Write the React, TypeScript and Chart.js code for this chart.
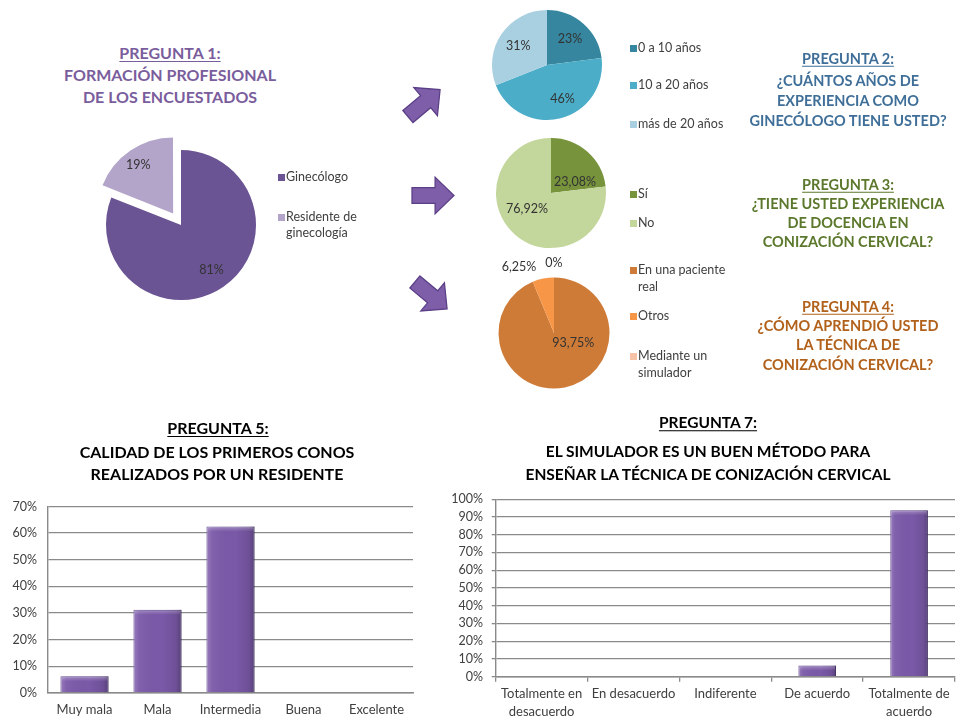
import React, { useEffect, useRef } from 'react';
import { Chart, registerables } from 'chart.js';

Chart.register(...registerables);
Chart.defaults.font.family = 'Lato';

// ---------------- DATA ----------------
const p1Labels = ['Ginecólogo', 'Residente de\nginecología'];
const p1Values = [81, 19];
const p1Colors = ['#6a5493', '#b3a4c9'];

const p2Labels = ['0  a 10 años', '10 a 20 años', 'más de 20 años'];
const p2Values = [23, 46, 31];
const p2Colors = ['#35869e', '#4badc8', '#a9d0e1'];

const p3Labels = ['Sí', 'No'];
const p3Values = [23.08, 76.92];
const p3Colors = ['#77933c', '#c3d69b'];

const p4Labels = ['En una paciente\nreal', 'Otros', 'Mediante un\nsimulador'];
const p4Values = [93.75, 6.25, 0];
const p4Colors = ['#cf7b38', '#f79646', '#f6c3a6'];

const p5Categories = ['Muy mala', 'Mala', 'Intermedia', 'Buena', 'Excelente'];
const p5Values = [6.25, 31.25, 62.5, 0, 0];

const p7Categories = [
  ['Totalmente en', 'desacuerdo'],
  ['En desacuerdo'],
  ['Indiferente'],
  ['De acuerdo'],
  ['Totalmente de', 'acuerdo'],
];
const p7Values = [0, 0, 0, 6.25, 93.75];

const fmtPct = (v: number) => String(v).replace('.', ',') + '%';

// ---------------- PLUGINS ----------------
const pieLabelsPlugin = {
  id: 'pieLabels',
  afterDatasetsDraw(chart: any, _args: any, opts: any) {
    const { ctx } = chart;
    const meta = chart.getDatasetMeta(0);
    const values = chart.data.datasets[0].data as number[];
    const place = opts.place || [];
    ctx.save();
    ctx.font = `${opts.size || 12.5}px Lato`;
    ctx.fillStyle = opts.color || '#333';
    ctx.textAlign = 'center';
    ctx.textBaseline = 'middle';
    meta.data.forEach((arc: any, i: number) => {
      const p = arc.getProps(['x', 'y', 'startAngle', 'endAngle', 'outerRadius'], true);
      const mid = (p.startAngle + p.endAngle) / 2;
      const off = (arc.options.offset || 0) / 4;
      const pl = place[i] || { f: 0.63 };
      const d = p.outerRadius * pl.f + off;
      const x = p.x + Math.cos(mid) * d + (pl.dx || 0);
      const y = p.y + Math.sin(mid) * d + (pl.dy || 0);
      ctx.fillText(fmtPct(values[i]), x, y);
    });
    ctx.restore();
  },
};

const bevelPlugin = {
  id: 'bevel',
  afterDatasetsDraw(chart: any) {
    const ctx = chart.ctx;
    chart.getDatasetMeta(0).data.forEach((bar: any) => {
      const { x, y, base, width } = bar.getProps(['x', 'y', 'base', 'width'], true);
      const h = base - y;
      if (h <= 0.5) return;
      const l = x - width / 2;
      const g = ctx.createLinearGradient(l, 0, l + width, 0);
      g.addColorStop(0, 'rgba(255,255,255,0.22)');
      g.addColorStop(0.12, 'rgba(255,255,255,0.05)');
      g.addColorStop(0.6, 'rgba(0,0,0,0)');
      g.addColorStop(0.88, 'rgba(0,0,0,0.10)');
      g.addColorStop(1, 'rgba(0,0,0,0.28)');
      ctx.save();
      ctx.fillStyle = g;
      ctx.fillRect(l, y, width, h);
      const tg = ctx.createLinearGradient(0, y, 0, y + 5);
      tg.addColorStop(0, 'rgba(255,255,255,0.30)');
      tg.addColorStop(1, 'rgba(255,255,255,0)');
      ctx.fillStyle = tg;
      ctx.fillRect(l + 1, y + 1, width - 2, Math.min(5, h - 1));
      ctx.restore();
    });
  },
};

// ---------------- COMPONENTS ----------------
type PieProps = {
  cx: number; cy: number; size: number; radius: number;
  values: number[]; colors: string[]; labels: string[];
  offsets?: number[]; place: any[];
};

function Pie({ cx, cy, size, radius, values, colors, labels, offsets, place }: PieProps) {
  const ref = useRef<HTMLCanvasElement>(null);
  useEffect(() => {
    const chart = new Chart(ref.current as HTMLCanvasElement, {
      type: 'pie',
      data: {
        labels: labels.map((l) => l.replace('\n', ' ')),
        datasets: [{ data: values, backgroundColor: colors, borderWidth: 0, offset: offsets || 0, hoverOffset: 0 } as any],
      },
      options: {
        responsive: false,
        animation: false,
        events: [],
        radius: radius,
        layout: { padding: 0 },
        plugins: {
          legend: { display: false },
          tooltip: { enabled: false },
          pieLabels: { place, size: 12.5, color: '#333' },
        } as any,
      } as any,
      plugins: [pieLabelsPlugin],
    });
    return () => chart.destroy();
  }, []);
  return (
    <canvas
      ref={ref}
      width={size}
      height={size}
      style={{ position: 'absolute', left: cx - size / 2, top: cy - size / 2, width: size, height: size }}
    />
  );
}

const gridColor = '#8a8a8a';
const tickColor = '#404040';
const barColor = '#7a59a8';
const barBorder = '#5a3e88';

function Bar5() {
  const ref = useRef<HTMLCanvasElement>(null);
  useEffect(() => {
    const chart = new Chart(ref.current as HTMLCanvasElement, {
      type: 'bar',
      data: {
        labels: p5Categories,
        datasets: [{
          data: p5Values,
          backgroundColor: barColor,
          borderColor: barBorder,
          borderWidth: 1,
          categoryPercentage: 1,
          barPercentage: 0.66,
        }],
      },
      options: {
        responsive: false,
        animation: false,
        events: [],
        layout: { padding: { top: 13.7, right: 7, left: 0, bottom: 0 } },
        plugins: { legend: { display: false }, tooltip: { enabled: false } },
        scales: {
          x: {
            grid: { display: false, drawTicks: false },
            border: { display: true, color: gridColor, width: 1.4 },
            ticks: { padding: 9, color: tickColor, font: { size: 13, lineHeight: 1.2 }, autoSkip: false, maxRotation: 0 },
            afterFit: (s: any) => { s.height = 25; },
          },
          y: {
            min: 0, max: 70,
            grid: { color: gridColor, lineWidth: 1.3, drawTicks: false },
            border: { display: true, color: gridColor, width: 1.4 },
            ticks: { stepSize: 10, padding: 11, autoSkip: false, color: tickColor, font: { size: 12.5 }, callback: (v: any) => v + '%' },
            afterFit: (s: any) => { s.width = 48; },
          },
        },
      } as any,
      plugins: [bevelPlugin],
    });
    return () => chart.destroy();
  }, []);
  return <canvas ref={ref} width={420} height={230} style={{ position: 'absolute', left: 0, top: 488 }} />;
}

function Bar7() {
  const ref = useRef<HTMLCanvasElement>(null);
  useEffect(() => {
    const chart = new Chart(ref.current as HTMLCanvasElement, {
      type: 'bar',
      data: {
        labels: p7Categories,
        datasets: [{
          data: p7Values,
          backgroundColor: barColor,
          borderColor: barBorder,
          borderWidth: 1,
          categoryPercentage: 1,
          barPercentage: 0.41,
        }],
      },
      options: {
        responsive: false,
        animation: false,
        events: [],
        layout: { padding: { top: 12, right: 2, left: 0, bottom: 0 } },
        plugins: { legend: { display: false }, tooltip: { enabled: false } },
        scales: {
          x: {
            grid: { display: true, drawOnChartArea: false, drawTicks: true, tickLength: 5, color: gridColor, lineWidth: 1.3 },
            border: { display: true, color: gridColor, width: 1.4 },
            ticks: { padding: 3.3, color: tickColor, font: { size: 13, lineHeight: 1.38 }, autoSkip: false, maxRotation: 0 },
            afterFit: (s: any) => { s.height = 41.3; },
          },
          y: {
            min: 0, max: 100,
            grid: { color: gridColor, lineWidth: 1.3, drawTicks: true, tickLength: 4 },
            border: { display: true, color: gridColor, width: 1.4 },
            ticks: { stepSize: 10, autoSkip: false, padding: 8.7, color: tickColor, font: { size: 12.5 }, callback: (v: any) => v + '%' },
            afterFit: (s: any) => { s.width = 65.7; },
          },
        },
      } as any,
      plugins: [bevelPlugin],
    });
    return () => chart.destroy();
  }, []);
  return <canvas ref={ref} width={527} height={235} style={{ position: 'absolute', left: 430, top: 483 }} />;
}

type TProps = {
  x: number; y: number; text: string; size: number; color: string;
  bold?: boolean; left?: boolean; underline?: boolean;
};
function T({ x, y, text, size, color, bold, left, underline }: TProps) {
  return (
    <div
      style={{
        position: 'absolute',
        left: x,
        top: y,
        transform: left ? 'translate(0,-50%)' : 'translate(-50%,-50%)',
        fontFamily: 'Lato',
        fontSize: size,
        fontWeight: bold ? 700 : 400,
        color,
        whiteSpace: 'nowrap',
        lineHeight: 1,
        textDecoration: underline ? 'underline' : 'none',
        textUnderlineOffset: 2,
      }}
    >
      {text}
    </div>
  );
}

function Legend({ x, items, colors, ys, lh }: { x: number; items: string[]; colors: string[]; ys: number[]; lh: number }) {
  return (
    <>
      {items.map((it, i) => {
        const lines = it.split('\n');
        return (
          <React.Fragment key={i}>
            <div style={{ position: 'absolute', left: x, top: ys[i] - 3.5, width: 7, height: 7, background: colors[i] }} />
            {lines.map((ln, j) => (
              <T key={j} x={x + 8} y={ys[i] + j * lh} text={ln} size={12.5} color="#404040" left />
            ))}
          </React.Fragment>
        );
      })}
    </>
  );
}

function Arrow({ x, y, rot }: { x: number; y: number; rot: number }) {
  const pts = '-20,-7.5 2,-7.5 2,-17.5 20,0 2,17.5 2,7.5 -20,7.5';
  return (
    <polygon
      points={pts}
      transform={`translate(${x} ${y}) rotate(${rot}) scale(1.05)`}
      fill="#7e5ea8"
      stroke="#5a3e86"
      strokeWidth={1.2}
      strokeLinejoin="miter"
    />
  );
}

export default function App() {
  const c1 = '#7a5d9c';
  const c2 = '#3f6f98';
  const c3 = '#5b782c';
  const c4 = '#b2611b';
  return (
    <div style={{ position: 'absolute', left: 0, top: 0, width: 957, height: 718, background: '#fff', overflow: 'hidden' }}>
      {/* Pregunta 1 */}
      <T x={170} y={53} text="PREGUNTA 1:" size={16} color={c1} bold underline />
      <T x={170} y={75} text="FORMACIÓN PROFESIONAL" size={16} color={c1} bold />
      <T x={170} y={97} text="DE LOS ENCUESTADOS" size={16} color={c1} bold />
      <Pie
        cx={181} cy={225} size={210} radius={75}
        values={p1Values} colors={p1Colors} labels={p1Labels}
        offsets={[0, 56]}
        place={[{ f: 0.725 }, { f: 0.78, dx: -2 }]}
      />
      <Legend x={278} items={p1Labels} colors={p1Colors} ys={[177, 217]} lh={16} />

      {/* Arrows */}
      <svg width={957} height={718} style={{ position: 'absolute', left: 0, top: 0 }}>
        <Arrow x={424} y={103} rot={-40} />
        <Arrow x={433} y={195.5} rot={0} />
        <Arrow x={431} y={295.5} rot={40} />
      </svg>

      {/* Pregunta 2 */}
      <Pie
        cx={547} cy={65} size={130} radius={55}
        values={p2Values} colors={p2Colors} labels={p2Labels}
        place={[{ f: 0.63 }, { f: 0.63, dx: 7 }, { f: 0.63 }]}
      />
      <Legend x={630} items={p2Labels} colors={p2Colors} ys={[48, 85, 124]} lh={16} />
      <T x={848} y={59} text="PREGUNTA 2:" size={14.5} color={c2} bold underline />
      <T x={848} y={81} text="¿CUÁNTOS AÑOS DE" size={14.5} color={c2} bold />
      <T x={848} y={101} text="EXPERIENCIA COMO" size={14.5} color={c2} bold />
      <T x={848} y={121} text="GINECÓLOGO TIENE USTED?" size={14.5} color={c2} bold />

      {/* Pregunta 3 */}
      <Pie
        cx={551} cy={192.5} size={130} radius={55}
        values={p3Values} colors={p3Colors} labels={p3Labels}
        place={[{ f: 0.63, dx: 1, dy: 15 }, { f: 0.63, dx: -1, dy: -10 }]}
      />
      <Legend x={630} items={p3Labels} colors={p3Colors} ys={[194, 223]} lh={16} />
      <T x={848} y={185} text="PREGUNTA 3:" size={14.5} color={c3} bold underline />
      <T x={848} y={204} text="¿TIENE USTED EXPERIENCIA" size={14.5} color={c3} bold />
      <T x={848} y={223} text="DE DOCENCIA EN" size={14.5} color={c3} bold />
      <T x={848} y={242} text="CONIZACIÓN CERVICAL?" size={14.5} color={c3} bold />

      {/* Pregunta 4 */}
      <Pie
        cx={553.5} cy={333} size={170} radius={55.5}
        values={p4Values} colors={p4Colors} labels={p4Labels}
        place={[{ f: 0.3, dx: 16, dy: -6 }, { f: 1.2, dx: -22, dy: -1 }, { f: 1.26 }]}
      />
      <Legend x={630} items={p4Labels} colors={p4Colors} ys={[270, 316, 356]} lh={17} />
      <T x={848} y={307} text="PREGUNTA 4:" size={14.5} color={c4} bold underline />
      <T x={848} y={326} text="¿CÓMO APRENDIÓ USTED" size={14.5} color={c4} bold />
      <T x={848} y={345} text="LA TÉCNICA DE" size={14.5} color={c4} bold />
      <T x={848} y={365} text="CONIZACIÓN CERVICAL?" size={14.5} color={c4} bold />

      {/* Pregunta 5 */}
      <T x={218} y={428} text="PREGUNTA  5:" size={16} color="#000" bold underline />
      <T x={217} y={452} text="CALIDAD DE LOS PRIMEROS CONOS" size={16} color="#000" bold />
      <T x={217} y={474} text="REALIZADOS POR UN RESIDENTE" size={16} color="#000" bold />
      <Bar5 />

      {/* Pregunta 7 */}
      <T x={708} y={423} text="PREGUNTA 7:" size={15.5} color="#000" bold underline />
      <T x={708} y={452} text="EL SIMULADOR ES UN BUEN MÉTODO PARA" size={15.5} color="#000" bold />
      <T x={708} y={475} text="ENSEÑAR LA TÉCNICA DE CONIZACIÓN CERVICAL" size={15.5} color="#000" bold />
      <Bar7 />
    </div>
  );
}
